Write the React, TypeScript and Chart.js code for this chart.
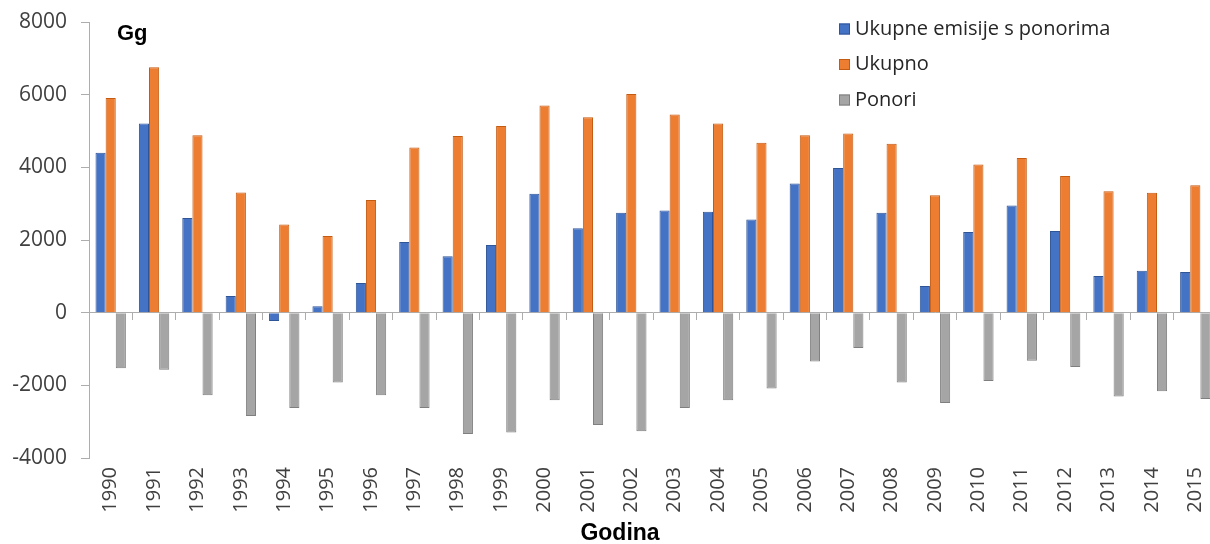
import React, { useEffect, useRef } from "react";
import { Chart, registerables } from "chart.js";

Chart.register(...registerables);

const years: string[] = [
  "1990", "1991", "1992", "1993", "1994", "1995", "1996", "1997", "1998", "1999",
  "2000", "2001", "2002", "2003", "2004", "2005", "2006", "2007", "2008", "2009",
  "2010", "2011", "2012", "2013", "2014", "2015",
];

const seriesNames: string[] = ["Ukupne emisije s ponorima", "Ukupno", "Ponori"];

const ukupneSPonorima: number[] = [
  4400, 5205, 2605, 460, -230, 180, 815, 1945, 1550, 1860, 3270, 2320, 2750, 2815, 2775,
  2565, 3555, 3980, 2750, 735, 2220, 2950, 2245, 1010, 1155, 1120,
];

const ukupno: number[] = [
  5910, 6755, 4885, 3310, 2430, 2110, 3100, 4545, 4860, 5135, 5700, 5380, 6015, 5455, 5205,
  4675, 4885, 4930, 4650, 3235, 4080, 4255, 3760, 3345, 3300, 3510,
];

const ponori: number[] = [
  -1530, -1570, -2275, -2845, -2625, -1925, -2275, -2625, -3340, -3300, -2410, -3090, -3265,
  -2625, -2410, -2090, -1345, -970, -1925, -2485, -1880, -1320, -1495, -2310, -2165, -2375,
];

const yMin = -4000;
const yMax = 8000;
const yStep = 2000;

const unitLabel = "Gg";
const xTitle = "Godina";

const fills = ["#4472C4", "#ED7D31", "#A5A5A5"];
const borders = ["#2F5597", "#C55A11", "#7F7F7F"];
const axisColor = "#ADADAD";
const textColor = "#404040";
const FONT = "'Open Sans', 'Liberation Sans', Arial, sans-serif";
const BOLD = "'Liberation Sans', Arial, sans-serif";

const overlayPlugin = {
  id: "overlayText",
  afterDraw(chart: any) {
    const ctx = chart.ctx as CanvasRenderingContext2D;
    ctx.save();
    ctx.fillStyle = "#000000";
    ctx.font = `bold 22px ${BOLD}`;
    ctx.textAlign = "left";
    ctx.textBaseline = "alphabetic";
    ctx.fillText(unitLabel, 117, 40);
    ctx.textAlign = "center";
    ctx.textBaseline = "middle";
    ctx.font = `bold 23px ${BOLD}`;
    ctx.fillText(xTitle, 620, 534);
    const ys = [29, 64.5, 100];
    ctx.font = `20px ${FONT}`;
    ctx.textAlign = "left";
    ctx.textBaseline = "middle";
    seriesNames.forEach((name, i) => {
      ctx.fillStyle = fills[i];
      ctx.fillRect(839, ys[i] - 5.5, 11, 11);
      ctx.strokeStyle = borders[i];
      ctx.lineWidth = 1;
      ctx.strokeRect(839.5, ys[i] - 5, 10, 10);
      ctx.fillStyle = "#262626";
      ctx.fillText(name, 855, ys[i]);
    });
    ctx.restore();
  },
};

export default function App() {
  const ref = useRef<HTMLCanvasElement | null>(null);

  useEffect(() => {
    if (!ref.current) return;
    const chart = new Chart(ref.current, {
      type: "bar",
      data: {
        labels: years,
        datasets: [
          { label: seriesNames[0], data: ukupneSPonorima },
          { label: seriesNames[1], data: ukupno },
          { label: seriesNames[2], data: ponori },
        ].map((d, i) => ({
          ...d,
          backgroundColor: fills[i],
          borderColor: borders[i],
          borderWidth: 1,
          categoryPercentage: 0.7,
          barPercentage: 1.0,
          xAxisID: "x",
          yAxisID: "y",
        })),
      },
      options: {
        responsive: false,
        animation: false,
        layout: { padding: { left: 0, right: 15, top: 22, bottom: 0 } },
        plugins: {
          legend: { display: false },
          tooltip: { enabled: false },
          title: { display: false },
        },
        scales: {
          x: {
            type: "category",
            position: "bottom",
            grid: { display: false, drawTicks: false },
            border: { display: false },
            ticks: {
              maxRotation: 90,
              minRotation: 90,
              padding: 9,
              color: textColor,
              font: { family: FONT, size: 20 },
              autoSkip: false,
            },
            afterFit: (s: any) => {
              s.height = 86;
            },
          },
          x0: {
            type: "category",
            axis: "x",
            labels: years,
            position: { y: 0 } as any,
            offset: true,
            grid: {
              display: true,
              drawOnChartArea: false,
              drawTicks: true,
              tickLength: 7,
              offset: true,
              color: axisColor,
            },
            border: { display: true, color: axisColor, width: 1 },
            ticks: { display: false },
          },
          y: {
            type: "linear",
            min: yMin,
            max: yMax,
            ticks: {
              stepSize: yStep,
              padding: 14,
              color: textColor,
              font: { family: FONT, size: 21 },
              callback: (v: any) => String(v),
            },
            grid: {
              display: true,
              drawOnChartArea: false,
              drawTicks: true,
              tickLength: 8,
              color: axisColor,
            },
            border: { display: true, color: axisColor, width: 1 },
            afterFit: (s: any) => {
              s.width = 89;
              s.paddingTop = 10;
              s.paddingBottom = 10;
            },
          },
        },
      } as any,
      plugins: [overlayPlugin],
    });
    return () => chart.destroy();
  }, []);

  return (
    <div
      style={{
        position: "absolute",
        left: 0,
        top: 0,
        width: 1210,
        height: 544,
        overflow: "hidden",
        background: "#ffffff",
      }}
    >
      <canvas ref={ref} width={1232} height={544} style={{ display: "block", width: 1232, height: 544 }} />
    </div>
  );
}
